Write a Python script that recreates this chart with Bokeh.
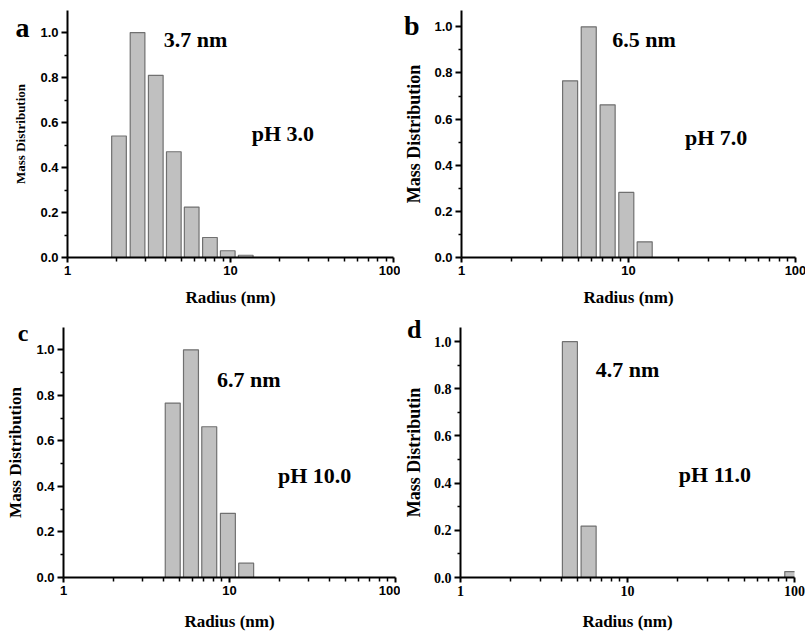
from bokeh.plotting import figure
from bokeh.models import (FixedTicker, PrintfTickFormatter, CustomJSTickFormatter,
                          Label, LinearAxis, Range1d)
from bokeh.layouts import column, row
from bokeh.embed import file_html
from bokeh.resources import INLINE

# Size-distribution bins (radius bin centres, nm) and normalised mass distribution
radius_a = [2.07, 2.69, 3.48, 4.49, 5.78, 7.48, 9.62, 12.4]
mass_a = [0.54, 1.00, 0.81, 0.47, 0.224, 0.089, 0.03, 0.01]

radius_b = [4.47, 5.78, 7.50, 9.70, 12.5]
mass_b = [0.766, 1.00, 0.662, 0.282, 0.068]

radius_c = [4.55, 5.86, 7.55, 9.78, 12.6]
mass_c = [0.766, 1.00, 0.662, 0.282, 0.063]

radius_d = [4.52, 5.85, 97.0]
mass_d = [1.00, 0.218, 0.025]

letters = ["a", "b", "c", "d"]
peak_labels = ["3.7 nm", "6.5 nm", "6.7 nm", "4.7 nm"]
ph_labels = ["pH 3.0", "pH 7.0", "pH 10.0", "pH 11.0"]
y_titles = ["Mass Distribution", "Mass Distribution", "Mass Distribution", "Mass Distributin"]
x_title = "Radius (nm)"

x_major = [1, 10, 100]
x_minor = [2, 3, 4, 5, 6, 7, 8, 9, 20, 30, 40, 50, 60, 70, 80, 90]
y_major = [0.0, 0.2, 0.4, 0.6, 0.8, 1.0]
y_minor = [0.1, 0.3, 0.5, 0.7, 0.9]

SERIF = "Liberation Serif"
SANS = "Liberation Sans"
BAR_HALF_DECADE = 0.045  # half bar width in log10 units


def panel(radius, mass, idx, geom, ytop, letter_spec, text_pos, tick_font,
          tick_size, ytitle_size, ylabel_standoff, xlabel_standoff):
    left, fw, right, top, fh, bottom = geom
    p = figure(x_axis_type="log", x_range=Range1d(1, 100), y_range=Range1d(0, ytop),
               frame_width=fw, frame_height=fh,
               min_border_left=left, min_border_right=right,
               min_border_top=top, min_border_bottom=bottom,
               title=None, output_backend="svg", toolbar_location=None)
    p.background_fill_color = "white"
    p.border_fill_color = "white"
    p.outline_line_color = None
    p.grid.visible = False

    k = 10 ** BAR_HALF_DECADE
    p.quad(left=[r / k for r in radius], right=[r * k for r in radius],
           bottom=0, top=mass, fill_color="#C0C0C0", line_color="#707070",
           line_width=1.2)

    for ax in (p.xaxis[0], p.yaxis[0]):
        ax.axis_line_width = 2
        ax.axis_line_color = "black"
        ax.major_tick_line_width = 2
        ax.major_tick_line_color = "black"
        ax.minor_tick_line_width = 1.5
        ax.minor_tick_line_color = "black"
        ax.major_tick_in = 0
        ax.minor_tick_in = 0
        ax.major_label_text_font = tick_font
        ax.major_label_text_font_style = "bold"
        ax.major_label_text_font_size = tick_size
        ax.major_label_text_color = "black"
        ax.axis_label_text_font = SERIF
        ax.axis_label_text_font_style = "bold"
        ax.axis_label_text_color = "black"

    xa = p.xaxis[0]
    xa.ticker = FixedTicker(ticks=x_major, minor_ticks=x_minor)
    xa.formatter = PrintfTickFormatter(format="%d")
    xa.major_tick_out = 5
    xa.minor_tick_out = 4
    xa.major_label_standoff = 3
    xa.axis_label = x_title
    xa.axis_label_text_font_size = "17px"
    xa.axis_label_standoff = xlabel_standoff

    ya = p.yaxis[0]
    ya.ticker = FixedTicker(ticks=y_major, minor_ticks=y_minor)
    ya.formatter = PrintfTickFormatter(format="%.1f")
    ya.major_tick_out = 6
    ya.minor_tick_out = 3
    ya.major_label_standoff = 3
    ya.axis_label = y_titles[idx]
    ya.axis_label_text_font_size = ytitle_size
    ya.axis_label_standoff = ylabel_standoff

    # panel letter: a bare outer axis whose single tick label is the letter,
    # pulled back over the main axis's label column
    letter_y, letter_size, letter_shift = letter_spec
    la = LinearAxis(ticker=FixedTicker(ticks=[letter_y], minor_ticks=[]),
                    formatter=CustomJSTickFormatter(args=dict(t=letters[idx]),
                                                    code="return t"),
                    axis_line_color=None, major_tick_line_color=None,
                    minor_tick_line_color=None, major_tick_out=0,
                    major_tick_in=0, minor_tick_out=0, minor_tick_in=0,
                    major_label_standoff=-letter_shift,
                    major_label_text_font=SERIF,
                    major_label_text_font_style="bold",
                    major_label_text_font_size=letter_size,
                    major_label_text_color="black")
    p.add_layout(la, "left")

    (sx, sy), (hx, hy) = text_pos
    p.add_layout(Label(x=sx, y=sy, text=peak_labels[idx], text_font=SERIF,
                       text_font_style="bold", text_font_size="22px",
                       text_color="black", text_align="left",
                       text_baseline="alphabetic"))
    p.add_layout(Label(x=hx, y=hy, text=ph_labels[idx], text_font=SERIF,
                       text_font_style="bold", text_font_size="22px",
                       text_color="black", text_align="left",
                       text_baseline="alphabetic"))
    return p


pa = panel(radius_a, mass_a, 0, (67, 326, 7, 10, 247, 53), 1.098, (1.022, "28px", 19),
           ((3.9, 0.968), (13.5, 0.551)), SANS, "13px", "13px", 9, 10)
pb = panel(radius_b, mass_b, 1, (57, 334, 14, 10, 247, 53), 1.071, (1.006, "28px", 18),
           ((8.0, 0.944), (21.8, 0.519)), SANS, "13px", "18px", 7, 10)
pc = panel(radius_c, mass_c, 2, (63, 332, 5, 17, 250, 60), 1.098, (1.076, "24px", 25),
           ((8.4, 0.868), (19.6, 0.446)), SANS, "13px", "17px", 8, 14)
pd = panel(radius_d, mass_d, 3, (56, 334, 15, 17, 250, 60), 1.06, (1.05, "26px", 21),
           ((6.46, 0.883), (20.3, 0.435)), SERIF, "14px", "18px", 7, 13)

layout = column(row(pa, pb), row(pc, pd))

with open("out.html", "w") as f:
    f.write(file_html(layout, INLINE))
